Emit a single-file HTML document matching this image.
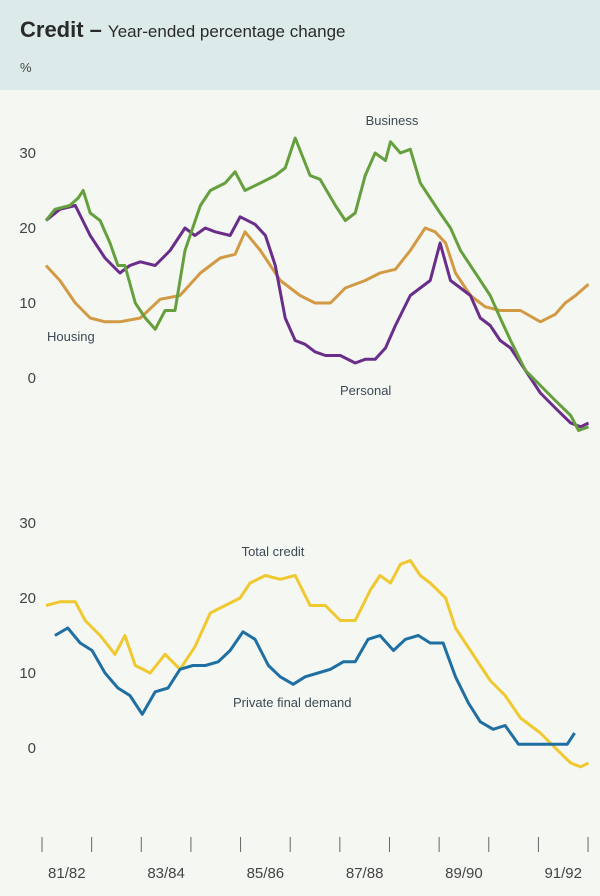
<!DOCTYPE html>
<html><head><meta charset="utf-8"><style>
html,body{margin:0;padding:0;}
body{width:600px;height:896px;background:#f5f7f2;font-family:"Liberation Sans",sans-serif;overflow:hidden;}
svg{display:block;}
</style></head><body>
<svg id="chart" width="600" height="896">
<rect x="0" y="0" width="600" height="90" fill="#dcebea"/>
<text x="20" y="37" font-size="22" fill="#2a2a2a"><tspan font-weight="bold">Credit –</tspan><tspan font-size="17" dx="6">Year-ended percentage change</tspan></text>
<text x="20" y="72" font-size="13" fill="#444">%</text>
<g id="axes"></g>
<g id="lines"></g>
<text x="392" y="125" font-size="13" fill="#3c4a55" text-anchor="middle">Business</text>
<text x="47" y="341" font-size="13" fill="#3c4a55">Housing</text>
<text x="340" y="395" font-size="13" fill="#3c4a55">Personal</text>
<text x="273" y="556" font-size="13" fill="#3c4a55" text-anchor="middle">Total credit</text>
<text x="233" y="707" font-size="13" fill="#3c4a55">Private final demand</text>
</svg>
<script>
const yTicks=[0,10,20,30];
const xYears=[1981,1982,1983,1984,1985,1986,1987,1988,1989,1990,1991,1992];
const xLabels=["81/82","83/84","85/86","87/88","89/90","91/92"];
const busT=[1981.08,1981.26,1981.56,1981.73,1981.83,1981.97,1982.17,1982.37,1982.53,1982.67,1982.88,1983.08,1983.28,1983.48,1983.68,1983.88,1984.19,1984.39,1984.69,1984.89,1985.09,1985.40,1985.70,1985.90,1986.10,1986.40,1986.60,1986.91,1987.11,1987.31,1987.51,1987.71,1987.92,1988.02,1988.22,1988.42,1988.62,1988.82,1989.02,1989.23,1989.43,1989.73,1990.03,1990.23,1990.44,1990.74,1991.04,1991.34,1991.65,1991.81,1992.01];
const busV=[21,22.5,23,24,25,22,21,18,15,15,10,8,6.5,9,9,17,23,25,26,27.5,25,26,27,28,32,27,26.5,23,21,22,27,30,29,31.5,30,30.5,26,24,22,20,17,14,11,8,5,1,-1,-3,-5,-7,-6.5];
const perT=[1981.08,1981.36,1981.67,1981.97,1982.27,1982.57,1982.77,1982.98,1983.28,1983.58,1983.88,1984.08,1984.29,1984.49,1984.79,1984.99,1985.29,1985.50,1985.70,1985.90,1986.10,1986.30,1986.50,1986.71,1987.01,1987.31,1987.51,1987.71,1987.92,1988.12,1988.42,1988.82,1989.02,1989.23,1989.43,1989.63,1989.83,1990.03,1990.23,1990.44,1990.74,1991.04,1991.34,1991.65,1991.85,1992.01];
const perV=[21,22.5,23,19,16,14,15,15.5,15,17,20,19,20,19.5,19,21.5,20.5,19,15,8,5,4.5,3.5,3,3,2,2.5,2.5,4,7,11,13,18,13,12,11,8,7,5,4,1,-2,-4,-6,-6.5,-6];
const houT=[1981.08,1981.36,1981.67,1981.97,1982.27,1982.57,1982.98,1983.38,1983.78,1984.19,1984.59,1984.89,1985.09,1985.40,1985.80,1986.20,1986.50,1986.81,1987.11,1987.51,1987.81,1988.12,1988.42,1988.72,1988.92,1989.13,1989.33,1989.63,1989.93,1990.23,1990.64,1991.04,1991.34,1991.54,1991.75,1992.01];
const houV=[15,13,10,8,7.5,7.5,8,10.5,11,14,16,16.5,19.5,17,13,11,10,10,12,13,14,14.5,17,20,19.5,18,14,11,9.5,9,9,7.5,8.5,10,11,12.5];
const totT=[1981.08,1981.36,1981.67,1981.87,1982.17,1982.47,1982.67,1982.88,1983.18,1983.48,1983.78,1984.08,1984.39,1984.69,1984.99,1985.19,1985.50,1985.80,1986.10,1986.40,1986.71,1987.01,1987.31,1987.61,1987.81,1988.02,1988.22,1988.42,1988.62,1988.82,1989.13,1989.33,1989.63,1990.03,1990.33,1990.64,1991.04,1991.34,1991.65,1991.85,1992.01];
const totV=[19,19.5,19.5,17,15,12.5,15,11,10,12.5,10.5,13.5,18,19,20,22,23,22.5,23,19,19,17,17,21,23,22,24.5,25,23,22,20,16,13,9,7,4,2,0,-2,-2.5,-2];
const pfdT=[1981.26,1981.52,1981.77,1982.01,1982.27,1982.53,1982.77,1983.02,1983.28,1983.54,1983.78,1984.04,1984.29,1984.55,1984.79,1985.05,1985.29,1985.56,1985.80,1986.06,1986.30,1986.56,1986.81,1987.07,1987.31,1987.57,1987.81,1988.08,1988.32,1988.58,1988.82,1989.08,1989.33,1989.59,1989.83,1990.09,1990.33,1990.60,1990.84,1991.10,1991.34,1991.58,1991.73];
const pfdV=[15,16,14,13,10,8,7,4.5,7.5,8,10.5,11,11,11.5,13,15.5,14.5,11,9.5,8.5,9.5,10,10.5,11.5,11.5,14.5,15,13,14.5,15,14,14,9.5,6,3.5,2.5,3,0.5,0.5,0.5,0.5,0.5,2];

const NS="http://www.w3.org/2000/svg";
const x=t=>42+(t-1981)*49.64;
const yTop=v=>378-v*7.5;
const yBot=v=>748-v*7.5;
const axes=document.getElementById('axes');
const lines=document.getElementById('lines');
function mk(tag,attrs,parent){const e=document.createElementNS(NS,tag);for(const k in attrs)e.setAttribute(k,attrs[k]);parent.appendChild(e);return e;}
yTicks.forEach(v=>{
  const a=mk('text',{x:36,y:yTop(v)+5,'font-size':15,fill:'#444','text-anchor':'end'},axes);a.textContent=v;
  
  
  const b=mk('text',{x:36,y:yBot(v)+5,'font-size':15,fill:'#444','text-anchor':'end'},axes);b.textContent=v;
  
  
});
xYears.forEach(yr=>{
  const l=mk('line',{x1:x(yr),x2:x(yr),y1:837,y2:852,stroke:'#666','stroke-width':1},axes);
  
  
});
xLabels.forEach((s,i)=>{
  const t=mk('text',{x:x(1981.5+2*i),y:878,'font-size':15,fill:'#444','text-anchor':'middle'},axes);t.textContent=s;
  
  
});
function line(T,V,yf,col,name){
  const d=T.map((t,i)=>(i?'L':'M')+x(t).toFixed(1)+','+yf(V[i]).toFixed(1)).join(' ');
  const p=mk('path',{d:d,fill:'none',stroke:col,'stroke-width':3,'stroke-linejoin':'round'},lines);
  
  
}
line(houT,houV,yTop,'#d29a44','housing-line');
line(perT,perV,yTop,'#6a2e8a','personal-line');
line(busT,busV,yTop,'#66a03e','business-line');
line(totT,totV,yBot,'#f0c830','total-credit-line');
line(pfdT,pfdV,yBot,'#1f6fa3','private-final-demand-line');
</script>
</body></html>
